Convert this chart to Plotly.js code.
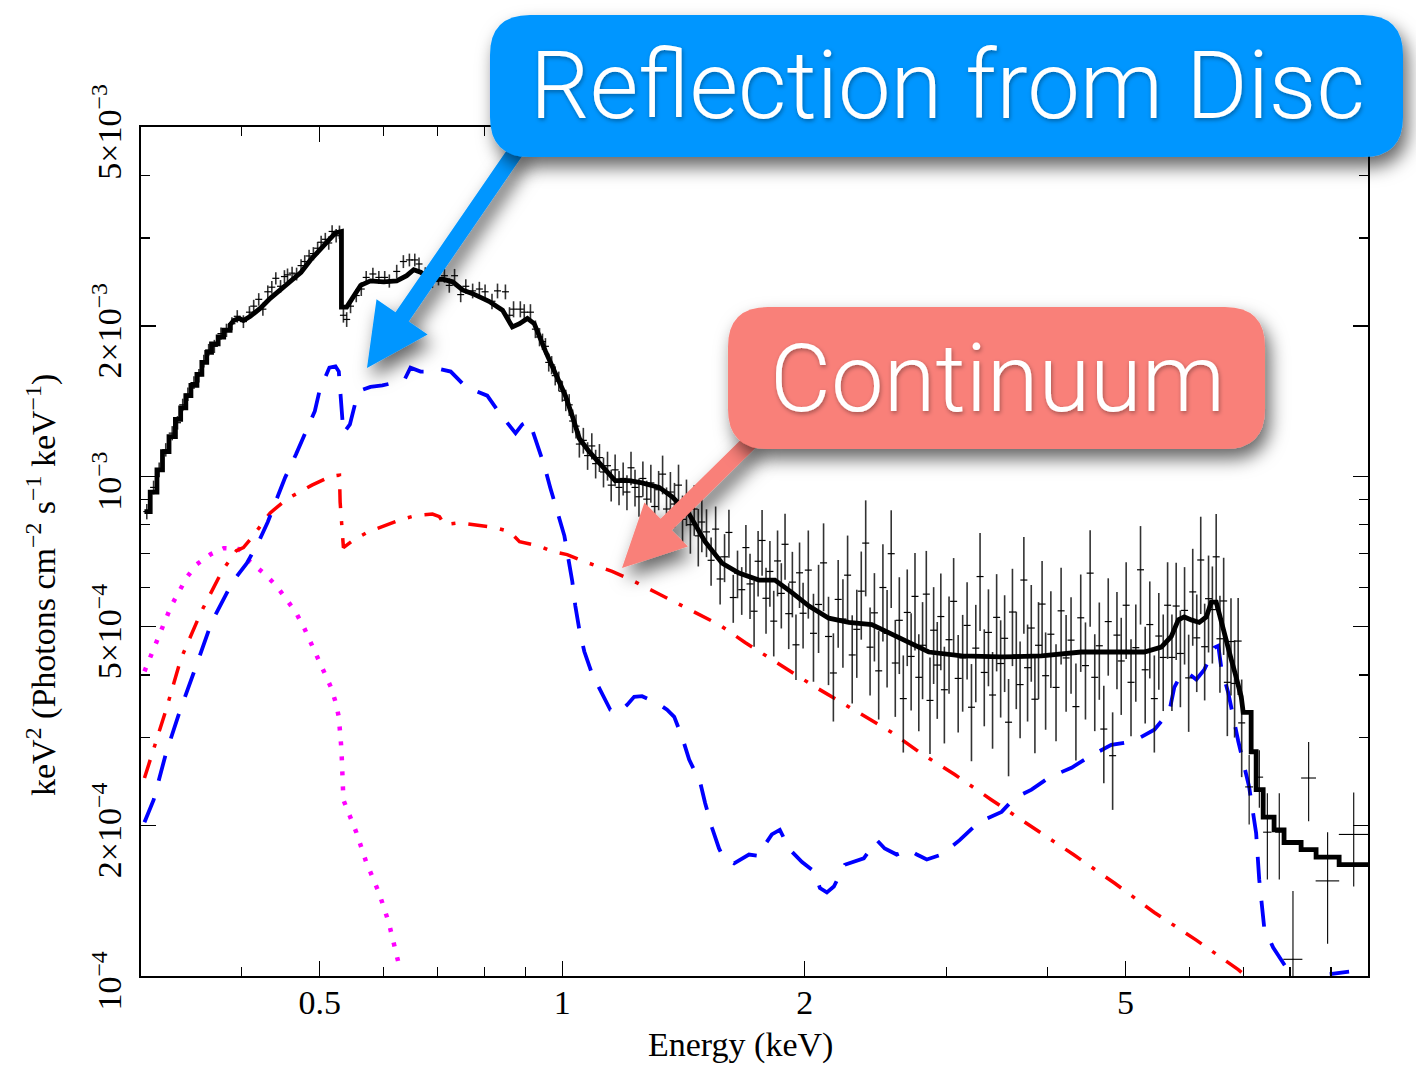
<!DOCTYPE html>
<html><head><meta charset="utf-8">
<script src="https://cdn.plot.ly/plotly-3.0.1.min.js"></script>
<style>html,body{margin:0;padding:0;background:#fff;} #chart{width:1416px;height:1068px;}</style>
</head><body><div id="chart"></div>
<script>
// Flux values are listed in units of 1e-4 keV^2 (Photons cm^-2 s^-1 keV^-1)
const UNIT = 1e-4;

// ---- Total folded model (black histogram) ----
const modelE = [0.303,0.308,0.308,0.314,0.314,0.319,0.319,0.325,0.325,0.331,0.331,0.336,0.336,0.341,0.341,0.346,0.346,0.352,0.352,0.357,0.357,0.362,0.362,0.367,0.367,0.374,0.374,0.380,0.380,0.387,0.387,0.391,
 0.397,0.402,0.410,0.422,0.434,0.447,0.460,0.474,0.487,0.501,0.513,0.523,0.532,0.532,0.540,0.551,0.562,0.578,0.600,0.623,0.641,0.654,0.667,0.690,0.710,0.731,0.752,0.774,0.811,0.843,0.867,0.885,0.905,0.923,0.937,
 0.953,0.980,1.009,1.029,1.050,1.080,1.121,1.163,1.211,1.256,1.319,1.369,1.437,1.504,1.579,1.657,1.754,1.836,1.928,2.024,2.142,2.268,2.422,2.542,2.692,2.850,3.131,3.509,3.934,4.408,4.802,5.278,
 5.540,5.700,5.816,5.916,6.035,6.174,6.299,6.390,6.481,6.537,6.612,6.707,6.765,6.862,6.961,7.000,7.161,7.161,7.264,7.264,7.411,7.411,7.646,7.646,7.867,7.867,8.260,8.260,8.621,8.621,9.208,9.208,10.0];
const modelF = [8.5,8.5,9.3,9.3,10.3,10.3,11.2,11.2,12.0,12.0,13.0,13.0,13.7,13.7,14.5,14.5,15.2,15.2,16.0,16.0,16.9,16.9,17.7,17.7,18.4,18.4,19.0,19.0,19.6,19.6,20.1,20.5,
 20.7,20.5,20.9,21.7,22.7,23.6,24.6,25.6,27.1,28.5,29.9,30.7,30.9,21.8,21.8,23.0,24.1,24.6,24.5,24.6,25.2,25.9,25.6,24.7,24.8,24.5,23.6,23.2,22.4,21.5,19.9,20.2,20.7,20.2,19.0,
 17.8,16.1,14.5,13.2,11.9,11.2,10.5,9.8,9.8,9.7,9.5,9.1,8.4,7.4,6.7,6.4,6.2,6.2,5.85,5.5,5.2,5.1,5.05,4.87,4.67,4.45,4.37,4.35,4.37,4.45,4.45,4.45,
 4.55,4.78,5.16,5.23,5.16,5.1,5.23,5.6,5.6,5.3,4.9,4.45,4.3,3.96,3.62,3.37,3.37,2.81,2.81,2.36,2.36,2.08,2.08,1.96,1.96,1.85,1.85,1.79,1.79,1.73,1.73,1.67,1.67];

// ---- Reflection from disc (blue dashed) ----
const reflE = [0.303,0.311,0.322,0.335,0.351,0.367,0.390,0.406,0.420,0.431,0.442,0.453,0.467,0.479,0.493,0.500,0.514,0.523,0.528,0.535,0.545,0.554,0.565,0.578,0.598,0.619,0.637,0.648,0.667,0.684,0.704,0.727,0.759,0.807,0.838,0.875,0.892,0.910,0.931,0.950,0.966,0.986,1.006,1.029,1.038,1.050,1.065,1.089,1.121,1.147,1.177,1.204,1.228,1.256,1.311,1.349,1.377,1.409,1.437,1.483,1.504,1.534,1.565,1.587,1.634,1.705,1.754,1.784,1.820,1.862,1.916,1.984,2.053,2.088,2.130,2.173,2.242,2.300,2.367,2.457,2.513,2.600,2.692,2.754,2.834,2.958,3.113,3.287,3.509,3.641,3.823,4.025,4.285,4.512,4.802,5.115,5.430,5.667,5.749,5.865,6.000,6.122,6.263,6.445,6.519,6.575,6.707,6.902,7.120,7.264,7.328,7.433,7.626,7.914,8.260,8.820,9.474];
const reflF = [2.03,2.25,2.78,3.38,4.16,5.1,6.16,6.7,7.4,8.1,9.0,9.95,11.05,12.1,13.5,14.9,16.5,16.6,16.2,12.2,12.7,14.1,14.9,15.1,15.2,15.4,15.6,16.5,16.2,16.2,16.4,16.2,15.1,14.5,13.3,12.2,12.7,12.9,11.6,10.5,9.5,8.5,7.6,6.16,5.5,4.93,4.46,4.02,3.66,3.41,3.37,3.49,3.62,3.63,3.52,3.41,3.3,3.0,2.71,2.44,2.22,1.98,1.80,1.72,1.68,1.75,1.74,1.83,1.92,1.96,1.79,1.69,1.62,1.5,1.47,1.51,1.67,1.69,1.72,1.87,1.80,1.75,1.79,1.75,1.71,1.75,1.87,2.03,2.13,2.27,2.36,2.5,2.61,2.75,2.9,2.95,3.11,3.38,3.78,4.02,4.02,3.92,4.1,4.54,4.58,4.14,3.69,2.95,2.39,1.93,1.56,1.25,1.14,1.04,0.94,1.005,1.02];

// ---- Continuum power law (red dash-dot) ----
const contE = [0.303,0.314,0.323,0.336,0.356,0.378,0.394,0.402,0.412,0.434,0.455,0.489,0.516,0.529,0.530,0.535,0.551,0.575,0.600,0.632,0.659,0.690,0.704,0.714,0.746,0.780,0.823,0.860,0.885,0.937,0.972,1.014,1.068,1.153,1.214,1.311,1.380,1.491,1.565,1.686,1.847,2.059,2.321,2.565,2.778,3.069,3.411,3.846,4.309,4.844,5.430,6.122,6.902,7.161];
const contF = [2.49,2.97,3.45,4.3,5.34,6.45,7.1,7.2,7.55,8.45,9.0,9.6,10.0,10.05,8.87,7.2,7.46,7.75,7.95,8.2,8.35,8.4,8.3,8.0,8.07,8.0,7.9,7.75,7.4,7.25,7.07,6.97,6.74,6.45,6.22,5.84,5.6,5.24,5.05,4.65,4.24,3.79,3.38,3.07,2.8,2.53,2.25,1.98,1.75,1.535,1.34,1.18,1.03,0.98];

// ---- Soft thermal component (magenta dotted) ----
const bbodyE = [0.303,0.316,0.327,0.342,0.352,0.366,0.380,0.397,0.410,0.428,0.442,0.455,0.467,0.478,0.487,0.496,0.506,0.516,0.523,0.528,0.532,0.533,0.535,0.543,0.555,0.571,0.592,0.609,0.623,0.630];
const bbodyF = [4.07,4.77,5.5,6.28,6.67,6.98,7.18,7.15,6.74,6.36,6.03,5.66,5.34,4.98,4.67,4.36,4.07,3.79,3.54,3.3,2.84,2.44,2.25,2.12,1.94,1.69,1.47,1.28,1.1,1.02];

// ---- Observed spectrum (points with 1-sigma errors) ----
const dataE = [
 0.305,0.311,0.316,0.322,0.328,0.333,0.338,0.343,0.349,0.354,0.359,0.364,0.370,0.377,0.383,0.389,0.395,0.402,0.409,0.414,0.420,0.425,0.431,0.436,0.441,0.447,0.452,0.456,0.462,0.468,0.474,0.479,0.485,0.491,0.497,0.502,0.508,0.513,0.518,0.524,0.529,
 0.535,0.540,0.546,0.555,0.563,0.571,0.582,0.592,0.602,0.610,0.623,0.635,0.646,0.656,0.664,0.676,0.690,0.702,0.714,0.724,0.735,0.748,0.759,0.774,0.789,0.802,0.818,0.831,0.850,0.860,0.870,0.887,0.897,0.913,0.926,0.937,
 0.945,0.953,0.962,0.970,0.980,0.990,1.000,1.010,1.020,1.030,1.040,1.050,1.062,1.075,1.088,1.100,1.112,1.125,1.138,1.150,1.163,1.176,1.190,1.203,1.217,1.231,1.245,1.259,1.273,1.288,1.302,1.317,1.332,1.347,1.362,1.378,1.394,1.410,1.426,1.442,1.458,1.475,1.490,
 1.51,1.53,1.55,1.57,1.59,1.61,1.63,1.65,1.67,1.69,1.71,1.73,1.75,1.77,1.79,1.81,1.83,1.85,1.87,1.89,1.91,1.93,1.95,1.97,1.99,
 2.02,2.05,2.08,2.11,2.14,2.17,2.20,2.23,2.26,2.29,2.32,2.35,2.38,2.41,2.44,2.47,2.50,2.53,2.56,2.59,2.62,2.65,2.68,2.71,2.74,2.77,2.80,2.83,2.86,2.89,2.92,2.95,2.98,
 3.02,3.06,3.10,3.14,3.18,3.22,3.26,3.30,3.34,3.38,3.42,3.46,3.50,3.54,3.58,3.62,3.66,3.70,3.74,3.78,3.82,3.86,3.90,3.94,3.98,
 4.04,4.10,4.16,4.22,4.28,4.34,4.40,4.46,4.52,4.58,4.64,4.70,4.76,4.82,4.88,4.94,
 5.01,5.08,5.15,5.22,5.29,5.36,5.43,5.50,5.57,5.64,5.71,5.78,5.85,5.92,5.99,6.06,6.13,6.20,6.27,6.34,6.41,6.48,6.55,6.62,6.69,6.76,6.83,6.90,6.97];
const dataF = [
 8.5,9.5,10.3,11.3,12.2,12.8,13.9,14.6,15.4,15.9,17.0,17.9,18.2,19.3,19.6,20.2,20.9,20.4,21.3,21.9,22.6,21.6,23.4,23.9,24.9,24.0,25.1,25.3,25.5,25.4,26.4,26.9,27.6,27.9,28.6,29.4,29.8,29.3,30.9,30.3,30.8,
 21.0,20.6,21.9,23.0,23.7,25.0,25.4,25.0,25.0,24.6,25.7,26.9,27.1,27.1,26.6,25.4,24.6,24.9,25.2,24.1,25.2,23.1,24.0,23.5,23.7,23.4,22.4,23.5,23.4,21.0,21.6,21.6,21.3,21.3,19.7,19.0,
 18.6,18.2,16.9,16.7,15.9,15.5,14.8,14.2,13.9,12.9,12.6,11.6,11.8,11.0,11.5,10.6,10.9,10.2,10.5,9.6,10.3,9.5,9.9,9.3,10.4,9.5,9.1,9.9,9.0,9.7,8.7,9.4,10.1,8.6,9.3,8.8,9.6,8.2,8.9,8.0,8.6,7.6,8.1,
 7.74,6.79,7.84,6.23,6.90,7.72,5.72,6.40,5.93,7.20,6.09,5.37,6.76,7.44,5.70,6.45,5.13,6.77,5.83,7.31,5.31,6.14,4.60,6.41,5.32,
 6.49,4.85,5.54,6.71,4.78,4.04,5.67,5.18,6.34,4.39,4.94,5.89,7.35,4.55,5.33,4.08,5.99,4.85,7.00,4.23,5.15,3.59,5.34,4.36,5.75,3.96,4.59,5.81,3.56,4.92,4.19,5.24,3.74,
 4.71,5.62,3.94,4.33,5.03,3.45,4.53,6.30,4.05,4.87,3.65,5.22,4.22,4.74,3.22,5.35,4.39,3.83,6.20,4.14,4.97,3.58,4.59,5.55,3.99,
 4.83,3.78,5.38,4.33,4.70,3.46,5.21,4.18,6.40,3.96,4.58,3.12,5.12,2.76,4.81,4.27,
 5.52,3.87,4.54,6.50,4.10,5.05,3.59,4.79,4.34,5.52,4.34,5.50,4.42,5.39,3.95,5.87,4.75,6.80,4.56,5.69,5.41,6.90,4.73,5.63,3.87,4.67,3.85,4.68,3.21];
const dataErr = [
 0.3,0.3,0.35,0.35,0.4,0.4,0.4,0.45,0.45,0.5,0.5,0.5,0.55,0.55,0.6,0.6,0.6,0.6,0.6,0.65,0.65,0.65,0.7,0.7,0.7,0.7,0.75,0.75,0.75,0.75,0.8,0.8,0.8,0.85,0.85,0.9,0.9,0.9,0.9,0.95,0.95,
 0.7,0.7,0.7,0.7,0.75,0.75,0.75,0.75,0.75,0.75,0.8,0.8,0.8,0.8,0.8,0.8,0.8,0.8,0.8,0.8,0.8,0.8,0.8,0.8,0.8,0.8,0.8,0.8,0.8,0.8,0.8,0.8,0.8,0.8,0.8,0.8,
 0.7,0.7,0.7,0.7,0.7,0.7,0.7,0.7,0.7,0.7,0.7,0.7,0.7,0.7,0.7,0.7,0.7,0.7,0.7,0.7,0.75,0.75,0.75,0.75,0.8,0.8,0.8,0.8,0.8,0.85,0.85,0.85,0.9,0.9,0.9,0.9,0.95,0.95,0.95,1.0,1.0,1.0,1.05,
 0.85,0.75,0.86,0.69,0.76,0.85,0.63,0.70,0.65,0.79,0.91,0.81,1.01,1.12,0.86,0.97,0.77,1.02,0.87,1.10,0.80,0.92,0.69,0.96,0.80,
 1.30,0.97,1.11,1.34,0.96,0.81,1.13,1.04,1.27,0.88,0.99,1.18,1.60,0.91,1.07,0.82,1.32,1.07,1.55,0.93,1.13,0.79,1.17,0.96,1.27,0.87,1.01,1.28,0.78,1.08,0.92,1.15,0.82,
 1.04,1.24,0.87,0.95,1.11,0.76,1.00,1.40,0.89,1.07,0.80,1.15,0.93,1.04,0.71,1.18,0.97,0.84,1.36,0.91,1.09,0.79,1.01,1.22,0.88,
 1.06,0.83,1.18,0.95,1.03,0.76,1.15,0.92,1.40,0.87,1.01,0.69,1.13,0.61,1.06,0.94,
 1.21,0.85,1.00,1.45,0.90,1.11,0.79,1.05,0.95,1.21,0.95,1.21,0.97,1.19,0.87,1.29,1.05,1.50,1.00,1.25,1.19,1.50,1.04,1.24,0.85,1.03,0.85,1.03,0.71];

// ---- High-energy bins (wide channels, with energy widths) ----
const hiE    = [7.12,7.33,7.50,7.76,8.07,8.44,8.91,9.60];
const hiF    = [2.39,2.50,1.94,1.94,1.08,2.49,1.55,1.92];
const hiErr  = [0.38,0.33,0.38,0.38,0.40,0.45,0.39,0.41];
const hiEerr = [0.08,0.08,0.09,0.09,0.22,0.18,0.30,0.40];

// ---- Axis ticks and titles ----
const xTickVals = [0.5,1,2,5];
const xTickText = ['0.5','1','2','5'];
const xMinorVals = [0.4,0.6,0.7,0.8,0.9,3,4,6,7,8,9];
const yTickVals = [1e-4,2e-4,5e-4,1e-3,2e-3,5e-3];
const yTickText = ['10<sup>\u22124</sup>','2\u00d710<sup>\u22124</sup>','5\u00d710<sup>\u22124</sup>','10<sup>\u22123</sup>','2\u00d710<sup>\u22123</sup>','5\u00d710<sup>\u22123</sup>'];
const yMinorVals = [3e-4,4e-4,6e-4,7e-4,8e-4,9e-4,3e-3,4e-3];
const xTitle = 'Energy (keV)';
const yTitle = 'keV<sup>2</sup> (Photons cm<sup>\u22122</sup> s<sup>\u22121</sup> keV<sup>\u22121</sup>)';

// ---- Layout geometry ----
const W = 1416, H = 1068;
const M = {l:141, r:48, t:127, b:92};
const PW = W - M.l - M.r, PH = H - M.t - M.b;
const px = X => (X - M.l) / PW;
const py = Y => (H - M.b - Y) / PH;
const pt = (X,Y) => px(X).toFixed(5) + ',' + py(Y).toFixed(5);

function roundRectPath(X0,Y0,X1,Y1,R){
  return 'M'+pt(X0+R,Y0)+' L'+pt(X1-R,Y0)+' Q'+pt(X1,Y0)+' '+pt(X1,Y0+R)+
         ' L'+pt(X1,Y1-R)+' Q'+pt(X1,Y1)+' '+pt(X1-R,Y1)+
         ' L'+pt(X0+R,Y1)+' Q'+pt(X0,Y1)+' '+pt(X0,Y1-R)+
         ' L'+pt(X0,Y0+R)+' Q'+pt(X0,Y0)+' '+pt(X0+R,Y0)+' Z';
}
function arrowPath(tail, tip, shaftW, headW, headL){
  const dx = tip[0]-tail[0], dy = tip[1]-tail[1], len = Math.hypot(dx,dy);
  const ux = dx/len, uy = dy/len, nx = -uy, ny = ux;
  const bx = tip[0]-ux*headL, by = tip[1]-uy*headL;
  const P = [[tail[0]+nx*shaftW/2, tail[1]+ny*shaftW/2],[bx+nx*shaftW/2, by+ny*shaftW/2],[bx+nx*headW/2, by+ny*headW/2],
             tip,[bx-nx*headW/2, by-ny*headW/2],[bx-nx*shaftW/2, by-ny*shaftW/2],[tail[0]-nx*shaftW/2, tail[1]-ny*shaftW/2]];
  return 'M' + P.map(q => pt(q[0],q[1])).join(' L') + ' Z';
}

const BLUE = '#0096FF', SALMON = '#F98079';
const shapes = [
  {type:'path', xref:'paper', yref:'paper', layer:'above', path: arrowPath([518,148],[367,368],16,62,62), fillcolor:BLUE, line:{width:0}},
  {type:'path', xref:'paper', yref:'paper', layer:'above', path: arrowPath([752,440],[622,568],16,62,62), fillcolor:SALMON, line:{width:0}},
  {type:'path', xref:'paper', yref:'paper', layer:'above', path: roundRectPath(490,15,1403,157,40), fillcolor:BLUE, line:{width:0}},
  {type:'path', xref:'paper', yref:'paper', layer:'above', path: roundRectPath(728,307,1265,449,40), fillcolor:SALMON, line:{width:0}}
];

const serif = '"Liberation Serif", "Times New Roman", Times, serif';
const labelFont = {family:'Roboto, "Liberation Sans", Arial, sans-serif', size:94, color:'#ffffff', weight:300};
const annotations = [
  {xref:'paper', yref:'paper', x:px(947), y:py(86), text:'Reflection from Disc', showarrow:false, xanchor:'center', yanchor:'middle', font:labelFont},
  {xref:'paper', yref:'paper', x:px(997), y:py(379), text:'Continuum', showarrow:false, xanchor:'center', yanchor:'middle', font:labelFont},
  {xref:'paper', yref:'paper', x:px(41), y:py(585), text:yTitle, showarrow:false, textangle:-90, xanchor:'center', yanchor:'middle', font:{family:serif, size:34, color:'#000'}},
  {xref:'paper', yref:'paper', x:px(740), y:py(1045), text:xTitle, showarrow:false, xanchor:'center', yanchor:'middle', font:{family:serif, size:34, color:'#000'}}
];

const sc = a => a.map(v => v*UNIT);
const traces = [
  {x:bbodyE, y:sc(bbodyF), mode:'lines', line:{color:'#ff00ff', width:4.5, dash:'4px,11px'}, hoverinfo:'skip'},
  {x:contE, y:sc(contF), mode:'lines', line:{color:'#ff0000', width:3.5, dash:'19px,13px,4px,13px'}, hoverinfo:'skip'},
  {x:reflE, y:sc(reflF), mode:'lines', line:{color:'#0000ff', width:3.8, dash:'26px,18px'}, hoverinfo:'skip'},
  {x:dataE, y:sc(dataF), mode:'markers',
   marker:{symbol:'line-ew', size:5, color:'#000', line:{width:1.2, color:'#000'}},
   error_y:{type:'data', array:sc(dataErr), color:'rgba(15,15,15,0.85)', thickness:1.6, width:0}, hoverinfo:'skip'},
  {x:hiE, y:sc(hiF), mode:'markers', marker:{size:1, color:'#000'},
   error_y:{type:'data', array:sc(hiErr), color:'#000', thickness:1.1, width:0},
   error_x:{type:'data', array:hiEerr, color:'#000', thickness:1.1, width:0}, hoverinfo:'skip'},
  {x:modelE, y:sc(modelF), mode:'lines', line:{color:'#000', width:4.8}, hoverinfo:'skip'}
];

const layout = {
  width:W, height:H, margin:M, showlegend:false,
  paper_bgcolor:'#fff', plot_bgcolor:'#fff',
  font:{family:serif, size:34, color:'#000'},
  xaxis:{type:'log', range:[Math.log10(0.3), 1], automargin:false,
    tickmode:'array', tickvals:xTickVals, ticktext:xTickText, ticks:'inside', ticklen:15, tickwidth:1.3, tickcolor:'#000',
    minor:{tickmode:'array', tickvals:xMinorVals, ticks:'inside', ticklen:9, tickwidth:1.3, tickcolor:'#000'},
    showline:true, linecolor:'#000', linewidth:2, mirror:'allticks', showgrid:false, zeroline:false,
    tickfont:{family:serif, size:34}, ticklabelstandoff:-5},
  yaxis:{type:'log', range:[-4, Math.log10(5e-3)], automargin:false,
    tickmode:'array', tickvals:yTickVals, ticktext:yTickText, ticks:'inside', ticklen:15, tickwidth:1.3, tickcolor:'#000',
    minor:{tickmode:'array', tickvals:yMinorVals, ticks:'inside', ticklen:9, tickwidth:1.3, tickcolor:'#000'},
    showline:true, linecolor:'#000', linewidth:2, mirror:'allticks', showgrid:false, zeroline:false,
    tickangle:-90, tickfont:{family:serif, size:34}, ticklabelstandoff:4, ticklabelshift:10},
  shapes:shapes, annotations:annotations
};

Plotly.newPlot('chart', traces, layout, {staticPlot:true}).then(gd => {
  try {
    const NS = 'http://www.w3.org/2000/svg';
    function addFilter(svg, id, dx, dy, sd, op){
      let defs = svg.querySelector('defs');
      if(!defs){ defs = document.createElementNS(NS,'defs'); svg.insertBefore(defs, svg.firstChild); }
      const f = document.createElementNS(NS,'filter');
      f.setAttribute('id', id); f.setAttribute('x','-40%'); f.setAttribute('y','-40%'); f.setAttribute('width','180%'); f.setAttribute('height','180%');
      const d = document.createElementNS(NS,'feDropShadow');
      d.setAttribute('dx',dx); d.setAttribute('dy',dy); d.setAttribute('stdDeviation',sd);
      d.setAttribute('flood-color','#000'); d.setAttribute('flood-opacity',op);
      f.appendChild(d); defs.appendChild(f);
    }
    const shapePaths = gd.querySelectorAll('.layer-above .shapelayer path');
    if(shapePaths.length){
      const svg = shapePaths[0].ownerSVGElement;
      addFilter(svg, 'boxShadow', 5, 10, 9, 0.6);
      shapePaths.forEach(p => p.setAttribute('filter','url(#boxShadow)'));
    }
    const texts = gd.querySelectorAll('.annotation-text-g');
    if(texts.length >= 2){
      const svg2 = texts[0].ownerSVGElement;
      addFilter(svg2, 'textShadow', 1, 2, 2, 0.35);
      texts[0].setAttribute('filter','url(#textShadow)');
      texts[1].setAttribute('filter','url(#textShadow)');
    }
  } catch(e) {}
});
</script></body></html>
